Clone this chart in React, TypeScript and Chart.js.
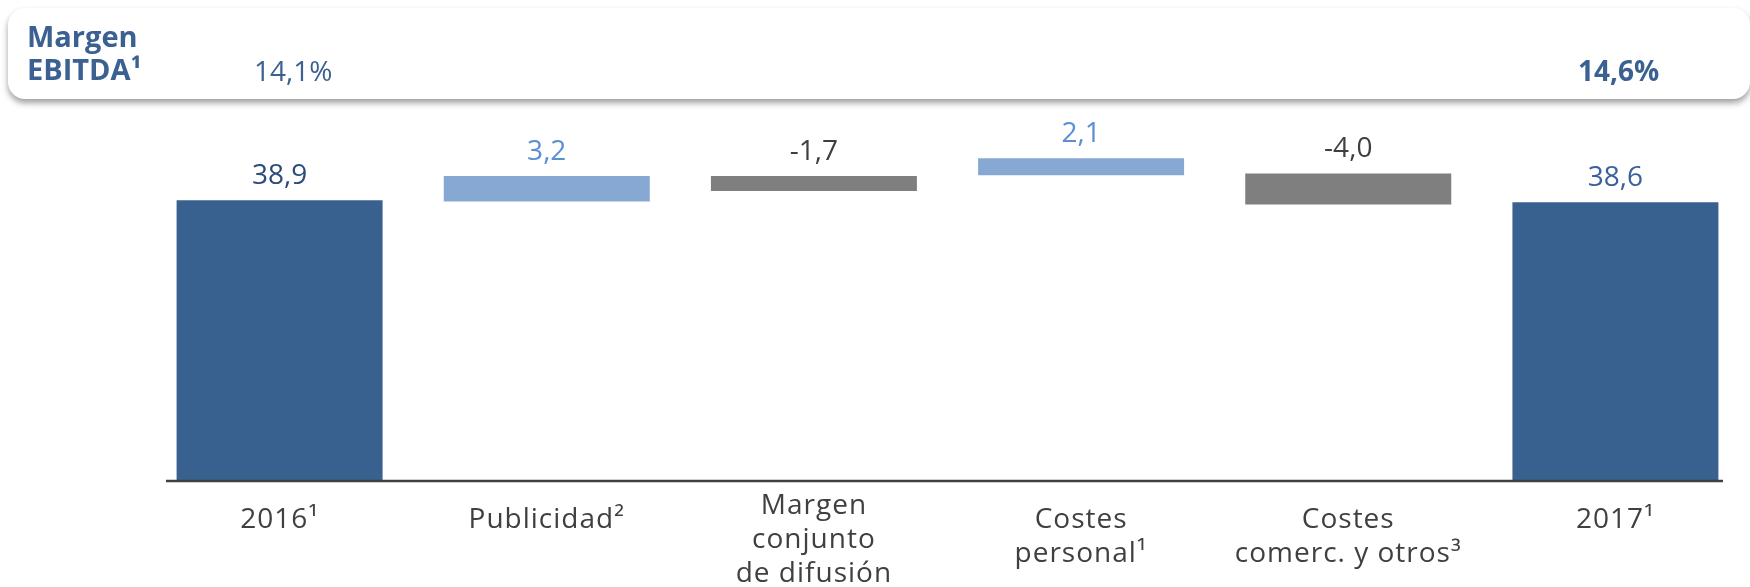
import React, { useEffect, useRef } from "react";
import { Chart, registerables } from "chart.js";

Chart.register(...registerables);

// ---- data ----
const categories: string[][] = [
  ["2016¹"],
  ["Publicidad²"],
  ["Margen", "conjunto", "de difusión"],
  ["Costes", "personal¹"],
  ["Costes", "comerc. y otros³"],
  ["2017¹"],
];
const values: number[] = [38.9, 3.2, -1.7, 2.1, -4.0, 38.6];
// floating bar extents as drawn in the reference (axis units)
const barStart: number[] = [0, 38.7, 40.15, 42.35, 38.3, 0];
const barEnd: number[] = [38.9, 42.25, 42.25, 44.7, 42.6, 38.6];
const headerTitle: string[] = ["Margen", "EBITDA¹"];
const headerValues: string[] = ["14,1%", "14,6%"];

// ---- styles ----
const FONT = "'Open Sans', 'Noto Sans', sans-serif";
const C_TOTAL = "#386190";
const C_UP = "#87A8D3";
const C_DOWN = "#7F7F7F";
const T_HEADER = "#3A6191";
const T_UP = "#5B8ED5";
const T_DOWN = "#3F3F3F";
const T_CAT = "#404040";

const kindOf = (i: number) =>
  i === 0 || i === values.length - 1 ? "total" : values[i] >= 0 ? "up" : "down";

const barColors = values.map((_, i) =>
  kindOf(i) === "total" ? C_TOTAL : kindOf(i) === "up" ? C_UP : C_DOWN
);
const labelColors = values.map((_, i) =>
  i === 0 ? "#2C4C7C" : i === values.length - 1 ? "#3A629A" : kindOf(i) === "up" ? T_UP : T_DOWN
);

const fmt = (v: number) => v.toFixed(1).replace(".", ",");

const overlayPlugin = {
  id: "overlay",
  beforeDraw(chart: any) {
    const ctx = chart.ctx as CanvasRenderingContext2D;
    // header box
    ctx.save();
    ctx.shadowColor = "rgba(0,0,0,0.38)";
    ctx.shadowBlur = 6;
    ctx.shadowOffsetY = 4;
    ctx.fillStyle = "#ffffff";
    ctx.beginPath();
    (ctx as any).roundRect(8, 8, 1742, 91, 17);
    ctx.fill();
    ctx.restore();

    ctx.save();
    ctx.fillStyle = T_HEADER;
    ctx.textBaseline = "alphabetic";
    ctx.textAlign = "left";
    ctx.font = `bold 29px ${FONT}`;
    ctx.fillText(headerTitle[0], 27, 47);
    ctx.fillText(headerTitle[1], 27, 80);
    ctx.font = `28px ${FONT}`;
    ctx.fillText(headerValues[0], 254, 81);
    ctx.font = `bold 28px ${FONT}`;
    ctx.fillText(headerValues[1], 1578, 81);
    ctx.restore();
  },
  afterDatasetsDraw(chart: any) {
    const ctx = chart.ctx as CanvasRenderingContext2D;
    const xs = chart.scales.x;
    const ys = chart.scales.y;
    const area = chart.chartArea;
    const y0 = ys.getPixelForValue(0);

    // axis line
    ctx.save();
    ctx.strokeStyle = "#404040";
    ctx.lineWidth = 2.5;
    ctx.beginPath();
    ctx.moveTo(area.left + 20, y0);
    ctx.lineTo(area.right - 26, y0);
    ctx.stroke();
    ctx.restore();

    // value labels
    ctx.save();
    ctx.font = `28px ${FONT}`;
    ctx.textAlign = "center";
    ctx.textBaseline = "alphabetic";
    values.forEach((v, i) => {
      const top = ys.getPixelForValue(Math.max(barStart[i], barEnd[i]));
      const x = xs.getPixelForValue(i);
      ctx.fillStyle = labelColors[i];
      ctx.fillText(fmt(v), x, top - 16);
    });
    ctx.restore();

    // category labels
    ctx.save();
    ctx.font = `28px ${FONT}`;
    (ctx as any).letterSpacing = "1px";
    ctx.textAlign = "center";
    ctx.textBaseline = "middle";
    ctx.fillStyle = T_CAT;
    const lineH = 34;
    const firstY = y0 + 39;
    const maxY = chart.height - 13;
    categories.forEach((lines, i) => {
      const x = xs.getPixelForValue(i);
      let start = firstY;
      const last = start + (lines.length - 1) * lineH;
      if (last > maxY) start -= last - maxY;
      lines.forEach((t, k) => ctx.fillText(t, x, start + k * lineH));
    });
    ctx.restore();
  },
};

export default function App() {
  const ref = useRef<HTMLCanvasElement>(null);
  useEffect(() => {
    document.body.style.margin = "0";
    const canvas = ref.current!;
    const chart = new Chart(canvas, {
      type: "bar",
      data: {
        labels: categories.map((c) => c.join(" ")),
        datasets: [
          {
            data: barStart.map((s, i) => [s, barEnd[i]]) as any,
            backgroundColor: barColors,
            borderWidth: 0,
            barPercentage: 0.771,
            categoryPercentage: 1,
          },
        ],
      },
      options: {
        responsive: false,
        animation: false,
        devicePixelRatio: 1,
        layout: { padding: { left: 146, right: 1, top: 120, bottom: 106 } },
        plugins: { legend: { display: false }, tooltip: { enabled: false } },
        scales: {
          x: { display: false },
          y: { display: false, min: 0, max: 50 },
        },
      },
      plugins: [overlayPlugin],
    });
    return () => chart.destroy();
  }, []);
  return (
    <div style={{ position: "relative", width: 1750, height: 587, background: "#fff" }}>
      <canvas ref={ref} width={1750} height={587} style={{ display: "block", width: 1750, height: 587 }} />
    </div>
  );
}
